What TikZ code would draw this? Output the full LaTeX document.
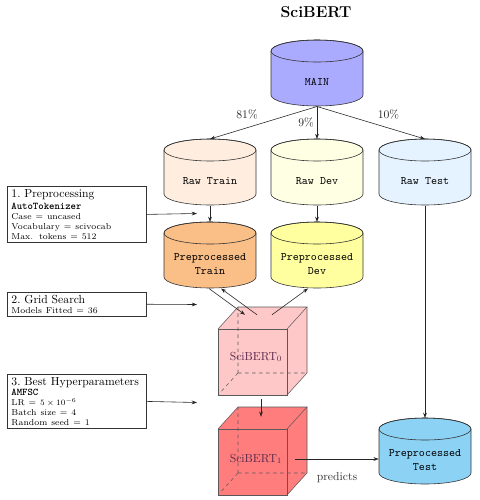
\documentclass[tikz,border=0pt]{standalone}
\usetikzlibrary{arrows.meta, calc}
\definecolor{cmain}{RGB}{170,170,255}
\definecolor{crtrain}{RGB}{255,238,224}
\definecolor{crdev}{RGB}{255,255,228}
\definecolor{crtest}{RGB}{228,243,255}
\definecolor{cptrain}{RGB}{250,190,135}
\definecolor{cpdev}{RGB}{255,255,160}
\definecolor{cptest}{RGB}{140,210,245}
\definecolor{ccubea}{RGB}{255,200,200}
\definecolor{ccubeb}{RGB}{255,125,125}
\definecolor{cubetext}{RGB}{90,40,75}
% cube: #1,#2 = front top-left corner (px), #3 = fill colour
\newcommand\drawcube[3]{%
  \fill[#3] (#1,#2) -- ++(20,-22) -- ++(69,0) -- ++(0,66) -- ++(-20,22) -- ++(-69,0) -- cycle;
  \draw[cubeedge, dashed] ({#1+20},{#2+44}) -- ++(0,-66) ({#1+20},{#2+44}) -- ++(69,0) ({#1+20},{#2+44}) -- ++(-20,22);
  \draw[cubeedge] (#1,#2) rectangle ++(69,66);
  \draw[cubeedge] (#1,#2) -- ++(20,-22) -- ++(69,0) -- ++(-20,22);
  \draw[cubeedge] ({#1+89},{#2-22}) -- ++(0,66) -- ++(-20,22);
}
% cylinder: #1 = centre x, #2 = top y (px), #3 = fill colour
\newcommand\drawcyl[3]{%
  \filldraw[fill=#3, cyledge] ({#1-46},{#2+11}) -- ({#1-46},{#2+55})
    arc[start angle=180, end angle=0, x radius=46, y radius=11] -- ({#1+46},{#2+11})
    arc[start angle=0, end angle=-180, x radius=46, y radius=11] -- cycle;
  \draw[cyledge] (#1,{#2+11}) ellipse[x radius=46, y radius=11];
}
\begin{document}
\begin{tikzpicture}[x=0.857pt,y=-0.857pt,
  cyledge/.style={draw=black!80, line width=0.5pt},
  db/.style={inner sep=0pt, minimum width=78.9pt, minimum height=56.6pt, anchor=north,
    align=center, font=\fontsize{9.8}{11.6}\selectfont\ttfamily},
  dbone/.style={db, text height=21.4pt, text depth=0pt},
  dbtwo/.style={db, text height=36pt, text depth=3pt},
  arr/.style={-{Stealth[length=4.5pt,width=3.2pt]}, line width=0.5pt, black!85},
  infobox/.style={draw=black!80, line width=0.6pt, anchor=north west, text width=112pt,
    align=left, inner xsep=3.5pt, inner ysep=2.3pt},
  pct/.style={font=\fontsize{10}{12}\selectfont},
  cubeedge/.style={draw=black!65, line width=0.45pt},
  cubelabel/.style={inner sep=0pt, minimum width=66.9pt, minimum height=72pt, text=cubetext,
    font=\fontsize{10}{12}\selectfont},
]
\useasboundingbox (0,0) rectangle (480,500);

\node[font=\fontsize{13.5}{16}\selectfont\bfseries] (title) at (316,12) {SciBERT};

% cylinders
\drawcyl{317}{40}{cmain}
\node[dbone] (main) at (317,40) {MAIN};
\drawcyl{210}{139}{crtrain}
\node[dbone] (rawtrain) at (210,139) {Raw Train};
\drawcyl{317}{139}{crdev}
\node[dbone] (rawdev) at (317,139) {Raw Dev};
\drawcyl{425}{139}{crtest}
\node[dbone] (rawtest) at (425,139) {Raw Test};
\drawcyl{210}{222}{cptrain}
\node[dbtwo] (preptrain) at (210,222) {Preprocessed\\Train};
\drawcyl{317}{222}{cpdev}
\node[dbtwo] (prepdev) at (317,222) {Preprocessed\\Dev};
\drawcyl{425}{418}{cptest}
\node[dbtwo] (preptest) at (425,418) {Preprocessed\\Test};

% cubes
\drawcube{218}{329}{ccubea}
\node[cubelabel] (sb0) at (256,357) {SciBERT$_0$};
\drawcube{218}{429}{ccubeb}
\node[cubelabel] (sb1) at (256,459) {SciBERT$_1$};

% info boxes
\node[infobox] (box1) at (7,186) {%
  {\fontsize{10}{12}\selectfont 1.\ Preprocessing\par}%
  {\fontsize{8.8}{10.7}\selectfont\ttfamily\bfseries AutoTokenizer\par}%
  {\fontsize{7.4}{8.6}\selectfont Case = uncased\\ Vocabulary = scivocab\\ Max. tokens = 512\par}};
\node[infobox] (box2) at (7,292) {%
  {\fontsize{10}{12}\selectfont 2.\ Grid Search\par}%
  {\fontsize{7.4}{8.6}\selectfont Models Fitted = 36\par}};
\node[infobox] (box3) at (7,374) {%
  {\fontsize{10}{12}\selectfont\mbox{3.\ Best Hyperparameters}\par}%
  {\fontsize{8.8}{9}\selectfont\ttfamily\bfseries AMFSC\par}%
  {\fontsize{7.4}{8.6}\selectfont LR = $5\times10^{-6}$\\ Batch size = 4\\ Random seed = 1\par}};

\coordinate (t1) at (197,213.5);
\coordinate (t2) at (197,304.5);
\coordinate (t3) at (197,402.5);

% connectors
\draw[arr] (main.south) -- node[pct, midway, xshift=-14.1pt, yshift=7.3pt] (l81) {81\%} (rawtrain.north);
\draw[arr] (main.south) -- node[pct, midway, xshift=-9.4pt] (l9) {9\%} (rawdev.north);
\draw[arr] (main.south) -- node[pct, midway, xshift=15pt, yshift=7.3pt] (l10) {10\%} (rawtest.north);
\draw[arr] (rawtrain.south) -- (preptrain.north);
\draw[arr] (rawdev.south) -- (prepdev.north);
\draw[arr] (rawtest.south) -- (preptest.north);
\draw[arr] ($(preptrain.south)+(-1,0)$) -- ($(sb0.north)+(-11,0)$);
\draw[arr] ($(sb0.north)+(1,0)$) -- ($(preptrain.south)+(11,0)$);
\draw[arr] ($(sb0.north)+(16,0)$) -- ($(prepdev.south)+(-9,0)$);
\draw[arr] ($(sb0.south)+(5,0)$) -- ($(sb1.north)+(5,0)$);
\draw[arr] (sb1.east) -- node[midway, yshift=-16.3pt, font=\fontsize{10}{12}\selectfont, text=black!80] (pred) {predicts} (sb1.east -| preptest.west);
\draw[arr] (box1.east) -- (t1);
\draw[arr] (box2.east) -- (t2);
\draw[arr] (box3.east) -- (t3);
\end{tikzpicture}
\end{document}
